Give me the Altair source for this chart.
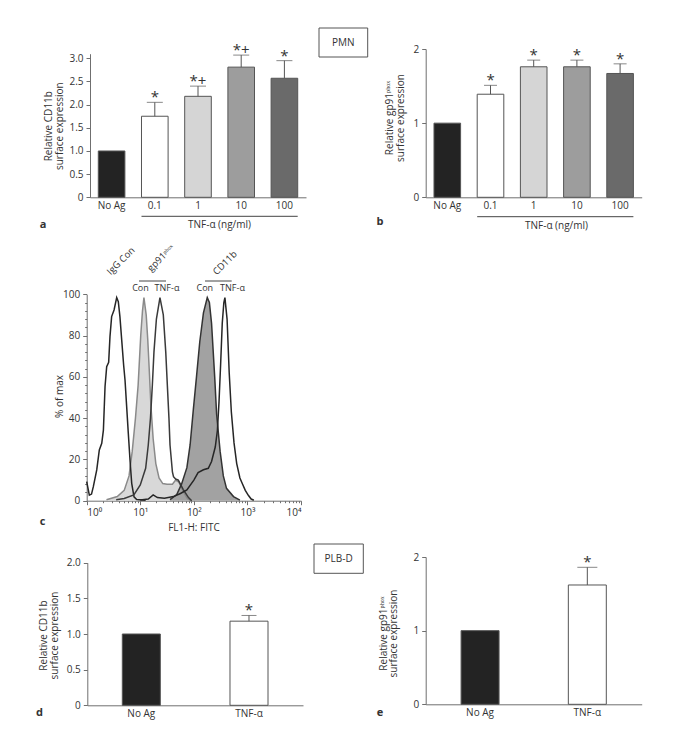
import altair as alt
import pandas as pd

# ---------------- data ----------------
pmn_groups = ["No Ag", "0.1", "1", "10", "100"]
cd11b_pmn_mean = [1.00, 1.75, 2.18, 2.81, 2.57]
cd11b_pmn_err = [0.00, 0.30, 0.22, 0.26, 0.38]
cd11b_pmn_sig = ["", "*", "*+", "*+", "*"]

gp91_pmn_mean = [1.00, 1.39, 1.76, 1.76, 1.67]
gp91_pmn_err = [0.00, 0.12, 0.09, 0.09, 0.13]
gp91_pmn_sig = ["", "*", "*", "*", "*"]

plb_groups = ["No Ag", "TNF-α"]
cd11b_plb_mean = [1.00, 1.18]
cd11b_plb_err = [0.00, 0.08]
gp91_plb_mean = [1.00, 1.62]
gp91_plb_err = [0.00, 0.24]
plb_sig = ["", "*"]

# flow cytometry histograms (FL1-H intensity, % of max)
igg_fl = [1.00, 1.12, 1.23, 1.33, 1.54, 1.72, 1.91, 2.05, 2.20, 2.36, 2.57, 2.72, 2.92,
          3.24, 3.63, 3.89, 4.17, 4.50, 4.90, 5.19, 5.57, 5.98, 6.43, 6.92, 7.64, 8.57, 12.6]
igg_pct = [9.2, 2.7, 3.2, 6.8, 14.9, 24.6, 27.8, 34.2, 55.3, 64.9, 67.0, 79.5, 89.2,
           92.4, 98.4, 96.4, 89.2, 77.9, 65.5, 58.5, 45.6, 32.6, 19.7, 8.4, 1.9, 0.6, 0.2]

gp91_con_fl = [2.34, 3.72, 5.01, 6.17, 7.08, 8.13, 9.12, 10.2, 11.0, 11.7, 12.9, 13.8, 14.8,
               15.8, 17.4, 19.5, 22.4, 26.3, 31.6, 39.8, 45.7, 52.5, 63.1, 75.9, 89.1]
gp91_con_pct = [0.5, 2, 5, 12, 24, 40, 56, 80, 92, 98.4, 90, 78, 62,
                46, 30, 18, 11, 8.3, 8, 8, 10, 9, 4.5, 1, 0]

gp91_tnf_fl = [3.55, 5.01, 7.59, 10.0, 12.6, 14.1, 15.5, 16.8, 18.0, 20.0, 23.3, 26.9, 29.9,
               32.0, 34.3, 35.9, 39.8, 41.7, 45.7, 51.3, 63.1, 79.4, 91.2]
gp91_tnf_pct = [0.5, 1.1, 2.8, 7.6, 15.7, 27, 40, 56, 72, 88, 98.4, 90, 72,
                56, 40, 27, 14, 11.6, 10.5, 10, 5.5, 1.5, 0]

cd11b_con_fl = [35.9, 47.9, 58.9, 74.1, 85.1, 97.7, 112, 129, 151, 178, 195, 214, 245,
                266, 309, 355, 407, 550, 724]
cd11b_con_pct = [0.5, 3, 8, 16, 27, 44, 60, 77, 91, 98.4, 96, 86, 60,
                 42, 24, 12, 6, 2, 0.3]

cd11b_tnf_fl = [10.0, 14.1, 17.4, 20.9, 28.2, 41.7, 56.2, 74.1, 100, 120, 151, 186, 214,
                251, 275, 295, 316, 339, 363, 380, 417, 457, 501, 562, 631, 724, 813,
                912, 1047, 1175, 1318]
cd11b_tnf_pct = [0.3, 0.8, 2.8, 1.5, 1.2, 2, 3.5, 5.2, 10, 13.6, 15, 15.7, 19,
                 26, 34, 48, 66, 86, 96, 98.4, 88, 62, 43, 28, 18, 11, 8,
                 5, 2.5, 0.8, 0.2]

# ---------------- styles / layout ----------------
pmn_fills = ["#232323", "#ffffff", "#d5d5d5", "#9d9d9d", "#6a6a6a"]
plb_fills = ["#232323", "#ffffff"]
W, H = 664, 731
M = 8
FONT = "Open Sans"
FS = 10
TXT = "#333333"
EDGE = "#555555"
TITLE_SHIFT = -4.5


def V(p):
    return p - M


def bar_panel(groups, means, errs, sigs, fills, x_px, y_px, y_dom, y_vals, y_expr,
              pad_in, pad_out, cap, y_title, y_title_xy, x_title=None, x_title_xy=None,
              tnf_line_y=None):
    tops = [m + e for m, e in zip(means, errs)]
    df = pd.DataFrame({"group": groups, "mean": means, "top": tops, "sig": sigs,
                       "err": errs})
    x_rng = [V(x_px[0]), V(x_px[1])]
    y_rng = [V(y_px[0]), V(y_px[1])]
    xs = alt.Scale(domain=groups, range=x_rng, paddingInner=pad_in, paddingOuter=pad_out)
    ys = alt.Scale(domain=y_dom, range=y_rng, nice=False)
    xkw = dict(orient="bottom", offset=y_rng[0] - H, ticks=False, labelPadding=3.5,
               labelAngle=0)
    if x_title:
        xkw.update(title=x_title, titleX=V(x_title_xy[0]), titleY=x_title_xy[1] - y_px[0],
                   titleBaseline="middle", titleAlign="center")
    else:
        xkw.update(title=None)
    x_axis = alt.Axis(**xkw)
    y_axis = alt.Axis(orient="left", offset=-x_rng[0], values=y_vals, labelExpr=y_expr,
                      tickSize=4, labelPadding=3, title=y_title,
                      titleX=y_title_xy[0] - x_px[0] + TITLE_SHIFT, titleY=V(y_title_xy[1]),
                      titleAngle=270, titleBaseline="middle", titleAlign="center",
                      titleLineHeight=10.5)
    base = alt.Chart(df)
    bars = base.mark_bar(stroke=EDGE, strokeWidth=1).encode(
        x=alt.X("group:N", scale=xs, axis=x_axis),
        y=alt.Y("mean:Q", scale=ys, axis=y_axis),
        fill=alt.Fill("group:N", scale=alt.Scale(domain=groups, range=fills), legend=None),
    )
    witherr = base.transform_filter("datum.err > 0")
    err = witherr.mark_rule(color=EDGE, strokeWidth=1).encode(
        x=alt.X("group:N", axis=None), y=alt.Y("mean:Q", axis=None), y2="top:Q")
    caps = witherr.mark_tick(size=cap, thickness=1, color=EDGE).encode(
        x=alt.X("group:N", axis=None), y=alt.Y("top:Q", axis=None))
    stars = base.mark_text(fontSize=15, color=TXT, baseline="alphabetic", dy=0).encode(
        x=alt.X("group:N", axis=None), y=alt.Y("top:Q", axis=None), text="sig:N")
    layers = [bars, err, caps, stars]
    if tnf_line_y is not None:
        ldf = pd.DataFrame({"a": [groups[1]], "b": [groups[-1]]})
        line = alt.Chart(ldf).mark_rule(color="#444", strokeWidth=1).encode(
            x=alt.X("a:N", bandPosition=0, axis=None),
            x2=alt.X2("b:N", bandPosition=1),
            y=alt.value(V(tnf_line_y)),
        )
        layers.append(line)
    return alt.layer(*layers).resolve_axis(x="independent", y="independent")


one_dec = "datum.value == 0 ? '0' : format(datum.value, '.1f')"
ints = "format(datum.value, 'd')"

panel_a = bar_panel(pmn_groups, cd11b_pmn_mean, cd11b_pmn_err, cd11b_pmn_sig, pmn_fills,
                    (90, 306), (197.3, 53.7), [0, 3.1], [0, 0.5, 1, 1.5, 2, 2.5, 3], one_dec,
                    0.384, 0.192, 16, ["Relative CD11b", "surface expression"], (53.3, 125.7),
                    "TNF-α (ng/ml)", (219, 224.5), tnf_line_y=216.3)
panel_b = bar_panel(pmn_groups, gp91_pmn_mean, gp91_pmn_err, gp91_pmn_sig, pmn_fills,
                    (425.7, 641.7), (197.3, 49), [0, 2], [0, 1, 2], ints,
                    0.384, 0.192, 13, ["Relative gp91ᵖʰᵒˣ", "surface expression"], (394.3, 117.5),
                    "TNF-α (ng/ml)", (556, 225.5), tnf_line_y=216.7)
panel_d = bar_panel(plb_groups, cd11b_plb_mean, cd11b_plb_err, plb_sig, plb_fills,
                    (87.3, 303), (705.3, 562.7), [0, 2], [0, 0.5, 1, 1.5, 2], one_dec,
                    0.647, 0.325, 15, ["Relative CD11b", "surface expression"], (48.3, 635))
panel_e = bar_panel(plb_groups, gp91_plb_mean, gp91_plb_err, plb_sig, plb_fills,
                    (425.7, 641.7), (704.3, 557), [0, 2], [0, 1, 2], ints,
                    0.646, 0.33, 20, ["Relative gp91ᵖʰᵒˣ", "surface expression"], (387.5, 633))

# ---------------- panel c : histograms ----------------
curves = [("igg", igg_fl, igg_pct), ("gcon", gp91_con_fl, gp91_con_pct),
          ("gtnf", gp91_tnf_fl, gp91_tnf_pct), ("ccon", cd11b_con_fl, cd11b_con_pct),
          ("ctnf", cd11b_tnf_fl, cd11b_tnf_pct)]
rows = []
for name, fl, pct in curves:
    rows += [{"curve": name, "fl": f, "pct": p} for f, p in zip(fl, pct)]
flow = pd.DataFrame(rows)

cx = (86.7, 301)
cy = (500.7, 294.3)
xs_c = alt.Scale(type="log", domain=[1, 10000], range=[V(cx[0]), V(cx[1])], nice=False)
ys_c = alt.Scale(domain=[0, 100], range=[V(cy[0]), V(cy[1])], nice=False)
sup = "['\u2070','\u00b9','\u00b2','\u00b3','\u2074'][round(log(datum.value)/LN10)]"
x_major = alt.Axis(orient="bottom", offset=V(cy[0]) - H, values=[1, 10, 100, 1000, 10000],
                   labelExpr="'10' + " + sup, tickSize=4, labelPadding=3,
                   title="FL1-H: FITC", titleX=V(193.5), titleY=527.5 - cy[0],
                   titleBaseline="middle", titleAlign="center")
minor_x_vals = [m * d for d in [1, 10, 100, 1000] for m in range(2, 10)]
x_minor = alt.Axis(orient="bottom", offset=V(cy[0]) - H, values=minor_x_vals, labels=False,
                   domain=False, tickSize=2, title=None)
y_major = alt.Axis(orient="left", offset=-V(cx[0]), values=[0, 20, 40, 60, 80, 100],
                   tickSize=4, labelPadding=3, title="% of max", titleX=60 - cx[0],
                   titleY=V(396), titleAngle=270, titleBaseline="middle", titleAlign="center")
y_minor = alt.Axis(orient="left", offset=-V(cx[0]),
                   values=[v for v in range(0, 101, 4) if v % 20], labels=False,
                   domain=False, tickSize=2, title=None)


def fcurve(name):
    return alt.Chart(flow).transform_filter(alt.datum.curve == name)


def area(name, fill):
    return fcurve(name).mark_area(fill=fill, opacity=1).encode(
        x=alt.X("fl:Q", scale=xs_c, axis=None), y=alt.Y("pct:Q", scale=ys_c, axis=None))


def line(name, color, width=1.5, xa=None, ya=None):
    return fcurve(name).mark_line(color=color, strokeWidth=width).encode(
        x=alt.X("fl:Q", scale=xs_c, axis=xa), y=alt.Y("pct:Q", scale=ys_c, axis=ya))


minor_layer = fcurve("igg").mark_line(opacity=0).encode(
    x=alt.X("fl:Q", scale=xs_c, axis=x_minor), y=alt.Y("pct:Q", scale=ys_c, axis=y_minor))

panel_c = alt.layer(
    area("gcon", "#d8d8d8"),
    area("ccon", "#a2a2a2"),
    line("gcon", "#8a8a8a", xa=x_major, ya=y_major),
    line("igg", "#262626"),
    line("gtnf", "#3a3a3a"),
    line("ccon", "#333333"),
    line("ctnf", "#262626"),
    minor_layer,
).resolve_axis(x="independent", y="independent")

# ---------------- annotations ----------------
one = pd.DataFrame({"k": [0]})


def label(text, x, y, size=FS, weight="normal", angle=0, align="center", font=FONT):
    return alt.Chart(one).mark_text(text=text, fontSize=size, fontWeight=weight, angle=angle,
                                    align=align, baseline="middle", color=TXT, font=font).encode(
        x=alt.value(V(x)), y=alt.value(V(y)))


def box(x1, x2, y1, y2):
    return alt.Chart(one).mark_rect(fill="white", stroke=EDGE, strokeWidth=1).encode(
        x=alt.value(V(x1)), x2=alt.value(V(x2)), y=alt.value(V(y1)), y2=alt.value(V(y2)))


def hline(x1, x2, y):
    return alt.Chart(one).mark_rule(color="#444", strokeWidth=1).encode(
        x=alt.value(V(x1)), x2=alt.value(V(x2)), y=alt.value(V(y)))


notes = [
    box(319, 367.7, 28, 57), label("PMN", 343.3, 42.5),
    box(314, 363.3, 544, 573.3), label("PLB-D", 338.6, 558.6),
    label("a", 43, 224.5, size=11, weight="bold"),
    label("b", 380, 221.5, size=11, weight="bold"),
    label("c", 42.5, 522, size=11, weight="bold"),
    label("d", 39.5, 713, size=11, weight="bold"),
    label("e", 380, 713, size=11, weight="bold"),
    label("IgG Con", 121, 261, size=9.5, angle=315),
    label("gp91ᵖʰᵒˣ", 161, 258, size=9.5, angle=315),
    label("CD11b", 225, 263, size=9.5, angle=315),
    hline(139, 166, 281), hline(205, 231.7, 281),
    label("Con", 140.5, 288.3, size=9), label("TNF-α", 167, 288.3, size=9),
    label("Con", 204.8, 288.3, size=9), label("TNF-α", 232.5, 288.3, size=9),
]

chart = alt.layer(panel_a, panel_b, panel_c, panel_d, panel_e, *notes).resolve_scale(
    x="independent", y="independent", fill="independent"
).resolve_axis(x="independent", y="independent").properties(
    width=W, height=H, autosize=alt.AutoSizeParams(type="none"), padding=0
).configure(font=FONT).configure_view(stroke=None).configure_axis(
    grid=False, labelFont=FONT, titleFont=FONT, labelFontSize=FS, titleFontSize=FS,
    titleFontWeight="normal", labelColor=TXT, titleColor=TXT, domainColor="#6f6f6f",
    tickColor="#6f6f6f", domainWidth=1, tickWidth=1
)

chart.save("out.html", embed_options={"renderer": "svg", "actions": False})
